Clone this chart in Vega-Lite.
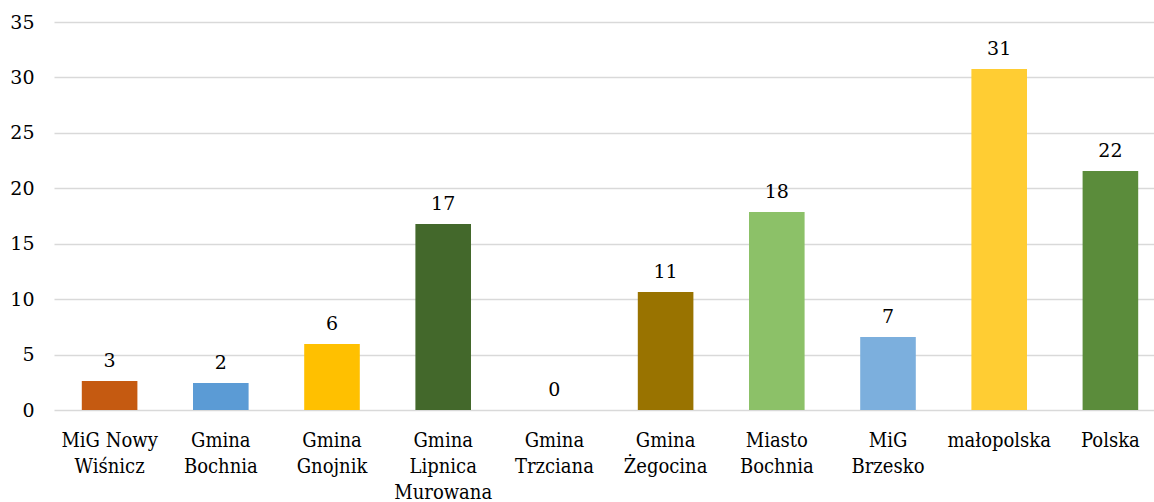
{
  "$schema": "https://vega.github.io/schema/vega-lite/v6.json",
  "autosize": {"type": "none"},
  "padding": {"left": 54, "top": 22, "right": 0, "bottom": 92},
  "width": 1112,
  "height": 388,
  "background": "white",
  "config": {"view": {"stroke": null}, "font": "DejaVu Serif"},
  "data": {"values": [
    {"name": "MiG Nowy Wiśnicz", "value": 2.62},
    {"name": "Gmina Bochnia", "value": 2.44},
    {"name": "Gmina Gnojnik", "value": 5.95},
    {"name": "Gmina Lipnica Murowana", "value": 16.78},
    {"name": "Gmina Trzciana", "value": 0},
    {"name": "Gmina Żegocina", "value": 10.64},
    {"name": "Miasto Bochnia", "value": 17.86},
    {"name": "MiG Brzesko", "value": 6.58},
    {"name": "małopolska", "value": 30.76},
    {"name": "Polska", "value": 21.56}
  ]},
  "encoding": {
    "x": {"field": "name", "type": "nominal", "sort": null,
      "scale": {"paddingInner": 0.5, "paddingOuter": 0.25},
      "axis": {"title": null, "labelAngle": 0, "domain": false, "ticks": false,
        "labelFont": "DejaVu Serif Condensed", "labelFontSize": 20, "labelColor": "#000000",
        "labelPadding": 20, "labelLineHeight": 26, "labelBaseline": "top",
        "labelExpr": "datum.value == 'MiG Nowy Wiśnicz' ? ['MiG Nowy', 'Wiśnicz'] : split(datum.value, ' ')"}},
    "y": {"field": "value", "type": "quantitative",
      "scale": {"domain": [0, 35], "nice": false},
      "axis": {"title": null, "values": [0, 5, 10, 15, 20, 25, 30, 35], "domain": false, "ticks": false,
        "labelFont": "DejaVu Serif", "labelFontSize": 19, "labelColor": "#000000", "labelPadding": 20,
        "gridColor": "#D9D9D9", "gridWidth": 1.5}}
  },
  "layer": [
    {"mark": {"type": "bar"},
      "encoding": {"color": {"field": "name", "type": "nominal", "legend": null,
        "scale": {"domain": ["MiG Nowy Wiśnicz", "Gmina Bochnia", "Gmina Gnojnik", "Gmina Lipnica Murowana", "Gmina Trzciana", "Gmina Żegocina", "Miasto Bochnia", "MiG Brzesko", "małopolska", "Polska"],
          "range": ["#C55A11", "#5B9BD5", "#FFC000", "#43682B", "#7F7F7F", "#997300", "#8CC168", "#7CAFDD", "#FFCD33", "#5B8C3B"]}}}},
    {"mark": {"type": "text", "baseline": "bottom", "dy": -10, "fontSize": 19, "font": "DejaVu Serif", "color": "#000000"},
      "encoding": {"text": {"field": "value", "type": "quantitative", "format": ".0f"}}}
  ]
}
